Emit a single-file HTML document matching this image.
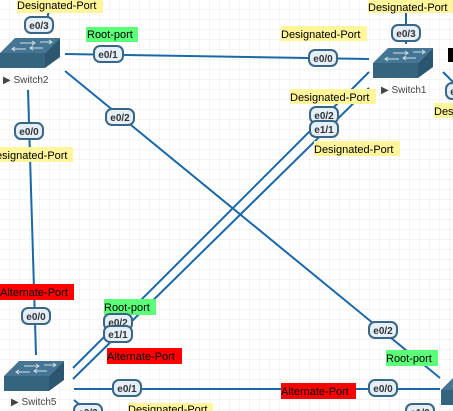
<!DOCTYPE html>
<html><head><meta charset="utf-8"><style>
html,body{margin:0;padding:0;background:#fff;}
svg{display:block;font-family:"Liberation Sans",sans-serif;}
.p rect{fill:#e4eff8;stroke:#3b6585;stroke-width:2;}
.p text{font-size:10px;font-weight:bold;fill:#333;text-anchor:middle;}
.l{font-size:11px;fill:#000;}
.sw text{font-size:10px;fill:#444;}
</style></head><body>
<svg width="453" height="411" viewBox="0 0 453 411">
<defs>
<pattern id="g" width="10" height="10" patternUnits="userSpaceOnUse">
<path d="M10 0V10H0" fill="none" stroke="#e8e8e8" stroke-width="1"/>
</pattern>
<g id="sw">
<polygon points="15,0 60,0 45,15 0,15" fill="#457592"/>
<polygon points="0,15 45,15 45,30 0,30" fill="#35647f"/>
<polygon points="45,15 60,0 60,19 45,30" fill="#2b566f"/>
<path d="M20,5 h15 M32,3 l3,2 -3,2 M40,4 h12 M49,2 l3,2 -3,2 M12,11 h14 M15,9 l-3,2 3,2 M30,10 h13 M33,8 l-3,2 3,2" stroke="#cfe0ea" stroke-width="1" fill="none"/>
</g>
</defs>
<rect width="453" height="411" fill="url(#g)"/>
<g stroke="#1a68a8" stroke-width="2" fill="none">
<line x1="65" y1="54" x2="369" y2="59"/>
<line x1="50" y1="0" x2="46" y2="30"/>
<line x1="28" y1="90" x2="36" y2="355"/>
<line x1="65" y1="71" x2="440" y2="378"/>
<line x1="369" y1="72" x2="73" y2="368"/>
<line x1="369" y1="88" x2="73" y2="379"/>
<line x1="406" y1="0" x2="406" y2="44"/>
<line x1="443" y1="72" x2="453" y2="82"/>
<line x1="74" y1="389" x2="440" y2="389"/>
<line x1="74" y1="400" x2="80" y2="405"/>
</g>
<use href="#sw" x="0" y="38"/>
<use href="#sw" x="147" y="48" transform="translate(226,0)"/>
<use href="#sw" x="4" y="361"/>
<use href="#sw" x="441" y="375"/>
<rect x="448" y="48" width="5" height="14" fill="#000"/>
<g class="sw">
<text x="3" y="83">▶ Switch2</text>
<text x="381" y="93">▶ Switch1</text>
<text x="11" y="405">▶ Switch5</text>
</g>
<!-- labels -->
<g class="l">
<rect x="17" y="0" width="86" height="13" fill="#fff59a"/><text x="17" y="9">Designated-Port</text>
<rect x="86" y="27" width="52" height="15" fill="#5cff78"/><text x="87" y="38">Root-port</text>
<rect x="281" y="26" width="86" height="15" fill="#fff59a"/><text x="281" y="38">Designated-Port</text>
<rect x="368" y="0" width="85" height="13" fill="#fff59a"/><text x="368" y="11">Designated-Port</text>
<rect x="290" y="89" width="86" height="15" fill="#fff59a"/><text x="290" y="101">Designated-Port</text>
<rect x="314" y="141" width="86" height="15" fill="#fff59a"/><text x="314" y="153">Designated-Port</text>
<rect x="434" y="103" width="19" height="15" fill="#fff59a"/><text x="434" y="115">Des</text>
<rect x="0" y="147" width="73" height="15" fill="#fff59a"/><text x="-12" y="159">Designated-Port</text>
<rect x="0" y="284" width="74" height="16" fill="#f00"/><text x="0" y="296">Alternate-Port</text>
<rect x="104" y="299" width="52" height="16" fill="#5cff78"/><text x="104" y="311">Root-port</text>
<rect x="107" y="348" width="75" height="16" fill="#f00"/><text x="107" y="360">Alternate-Port</text>
<rect x="386" y="350" width="52" height="16" fill="#5cff78"/><text x="386" y="362">Root-port</text>
<rect x="281" y="383" width="75" height="16" fill="#f00"/><text x="281" y="395">Alternate-Port</text>
<rect x="128" y="403" width="85" height="10" fill="#fff59a"/><text x="128" y="413">Designated-Port</text>
</g>
<!-- pills -->
<g class="p">
<g><rect x="25" y="17" width="28" height="16" rx="6"/><text x="39" y="29">e0/3</text></g>
<g><rect x="94" y="46" width="29" height="16" rx="6"/><text x="108" y="58">e0/1</text></g>
<g><rect x="309" y="50" width="28" height="16" rx="6"/><text x="323" y="62">e0/0</text></g>
<g><rect x="392" y="25" width="28" height="16" rx="6"/><text x="406" y="37">e0/3</text></g>
<g><rect x="106" y="109" width="28" height="16" rx="6"/><text x="120" y="121">e0/2</text></g>
<g><rect x="15" y="123" width="28" height="16" rx="6"/><text x="29" y="135">e0/0</text></g>
<g><rect x="310" y="107" width="28" height="16" rx="6"/><text x="324" y="119">e0/2</text></g>
<g><rect x="310" y="121" width="28" height="16" rx="6"/><text x="324" y="133">e1/1</text></g>
<g><rect x="446" y="83" width="28" height="16" rx="6"/><text x="460" y="95">e0/2</text></g>
<g><rect x="22" y="308" width="28" height="16" rx="6"/><text x="36" y="320">e0/0</text></g>
<g><rect x="104" y="314" width="28" height="16" rx="6"/><text x="118" y="326">e0/2</text></g>
<g><rect x="104" y="326" width="28" height="16" rx="6"/><text x="118" y="338">e1/1</text></g>
<g><rect x="369" y="322" width="28" height="16" rx="6"/><text x="383" y="334">e0/2</text></g>
<g><rect x="113" y="380" width="28" height="16" rx="6"/><text x="127" y="392">e0/1</text></g>
<g><rect x="369" y="380" width="28" height="16" rx="6"/><text x="383" y="392">e0/0</text></g>
<g><rect x="74" y="404" width="28" height="16" rx="6"/><text x="88" y="416">e0/3</text></g>
<g><rect x="406" y="404" width="28" height="16" rx="6"/><text x="420" y="416">e1/0</text></g>
</g>
</svg>
</body></html>
